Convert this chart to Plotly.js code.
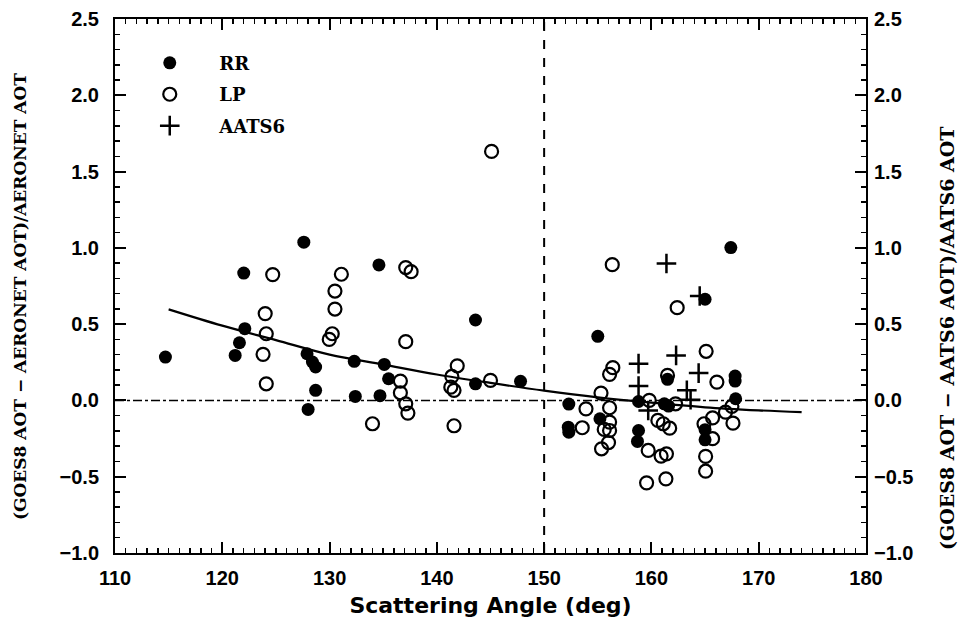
<!DOCTYPE html>
<html><head><meta charset="utf-8">
<script src="https://cdn.plot.ly/plotly-3.0.1.min.js"></script>
<style>html,body{margin:0;padding:0;background:#fff;}#chart{width:961px;height:621px;}</style>
</head><body><div id="chart"></div>
<script>
// RR (filled circles)
const rrX = [114.7,127.6,122.0,122.1,121.6,121.2,127.9,128.4,128.7,128.7,128.0,134.6,143.6,132.3,135.1,135.5,143.6,147.8,132.4,134.7,155.0,165.0,161.5,158.8,161.2,161.6,152.3,155.2,152.25,152.3,158.8,158.7,167.4,167.8,167.8,167.85,165.0,165.0];
const rrY = [0.284,1.037,0.835,0.470,0.378,0.295,0.306,0.252,0.219,0.066,-0.059,0.888,0.527,0.256,0.236,0.142,0.109,0.125,0.026,0.031,0.420,0.663,0.138,-0.007,-0.022,-0.037,-0.024,-0.120,-0.175,-0.208,-0.197,-0.269,1.002,0.160,0.127,0.011,-0.192,-0.258];
// LP (open circles)
const lpX = [124.7,124.0,124.1,123.8,124.1,145.1,137.1,137.6,131.1,130.5,130.5,130.25,129.97,137.1,141.9,136.6,141.4,141.3,141.6,145.0,136.6,137.1,137.3,134.0,141.6,
  156.35,162.4,165.1,156.4,156.1,161.5,166.1,155.3,153.9,159.8,162.25,156.1,156.1,155.6,156.1,160.6,161.1,161.7,153.55,156.0,155.35,159.7,160.9,161.4,159.55,161.35,
  167.5,166.9,165.7,164.9,165.7,167.6,165.05,165.05];
const lpY = [0.825,0.569,0.437,0.302,0.109,1.632,0.871,0.844,0.827,0.717,0.599,0.437,0.400,0.385,0.227,0.127,0.157,0.087,0.066,0.131,0.050,-0.022,-0.083,-0.153,-0.166,
  0.890,0.608,0.322,0.215,0.171,0.164,0.120,0.048,-0.055,0.000,-0.022,-0.048,-0.142,-0.190,-0.197,-0.131,-0.153,-0.182,-0.179,-0.276,-0.317,-0.328,-0.365,-0.350,-0.540,-0.514,
  -0.039,-0.077,-0.114,-0.153,-0.251,-0.149,-0.367,-0.464];
// AATS6 (plus)
const aaX = [161.4,164.5,162.3,158.8,164.4,158.8,163.3,163.65,159.7];
const aaY = [0.897,0.684,0.295,0.241,0.179,0.094,0.066,0.004,-0.066];
// fitted curve
const fitX = [115,120,125,130,135,140,145,150,155,160,165,170,174];
const fitY = [0.597,0.49,0.395,0.30,0.235,0.17,0.115,0.064,0.02,-0.015,-0.045,-0.065,-0.077];

const serif = 'DejaVu Serif, Liberation Serif, serif';
const tickFont = {family:'Liberation Sans, Arial, sans-serif', size:20, color:'#000', weight:600};
const leftTitle = '<b>(GOES8 AOT \u2212 AERONET AOT)/AERONET AOT</b>';
const rightTitle = '<b>(GOES8 AOT \u2212 AATS6 AOT)/AATS6 AOT</b>';

const traces = [
  {x:fitX, y:fitY, mode:'lines', line:{color:'#000', width:2.2, shape:'spline'}, showlegend:false, hoverinfo:'skip'},
  {x:rrX, y:rrY, mode:'markers', name:'<b>RR</b>', legendgroup:'a', marker:{symbol:'circle', size:13, color:'#000'}},
  {x:lpX, y:lpY, mode:'markers', name:'<b>LP</b>', legendgroup:'b', marker:{symbol:'circle-open', size:13, color:'#000', line:{width:2.2, color:'#000'}}},
  {x:aaX, y:aaY, mode:'markers', name:'<b>AATS6</b>', legendgroup:'c', marker:{symbol:'cross-thin-open', size:14, color:'#000', line:{width:2.5, color:'#000'}}},
  {x:[150], y:[0], xaxis:'x2', yaxis:'y2', mode:'markers', marker:{opacity:0}, showlegend:false, hoverinfo:'skip'}
];

const axBase = {
  showgrid:false, zeroline:false, showline:true, linecolor:'#000', linewidth:2,
  ticks:'inside', ticklen:11, tickwidth:2, tickcolor:'#000', tickfont:tickFont
};

const layout = {
  width:961, height:621,
  margin:{l:115, r:95, t:19, b:68},
  paper_bgcolor:'#fff', plot_bgcolor:'#fff',
  showlegend:true,
  legend:{x:0.007, y:0.952, xanchor:'left', yanchor:'top', bgcolor:'rgba(0,0,0,0)',
    font:{family:serif, size:18, color:'#000'}, tracegroupgap:5, traceorder:'grouped', itemwidth:89},
  xaxis:Object.assign({}, axBase, {range:[110,180], dtick:10, tick0:110, ticklabelstandoff:6,
    minor:{dtick:1, ticks:'inside', ticklen:5, tickwidth:1.5, tickcolor:'#000'},
    title:{text:'<b>Scattering Angle (deg)</b>', font:{family:'DejaVu Sans, sans-serif', size:22, color:'#000'}, standoff:10}}),
  yaxis:Object.assign({}, axBase, {range:[-1,2.5], dtick:0.5, tick0:0, tickformat:'.1f', ticklabelstandoff:10,
    minor:{dtick:0.1, ticks:'inside', ticklen:5, tickwidth:1.5, tickcolor:'#000'}}),
  xaxis2:Object.assign({}, axBase, {range:[110,180], dtick:10, tick0:110, overlaying:'x', side:'top', showticklabels:false,
    minor:{dtick:1, ticks:'inside', ticklen:5, tickwidth:1.5, tickcolor:'#000'}}),
  yaxis2:Object.assign({}, axBase, {range:[-1,2.5], dtick:0.5, tick0:0, tickformat:'.1f', overlaying:'y', side:'right', ticklabelstandoff:2,
    minor:{dtick:0.1, ticks:'inside', ticklen:5, tickwidth:1.5, tickcolor:'#000'}}),
  annotations:[
    {text:leftTitle, xref:'paper', yref:'paper', x:(20-115)/751, y:(553-297)/534, xanchor:'center', yanchor:'middle', textangle:-90, showarrow:false, font:{family:serif, size:17, color:'#000'}},
    {text:rightTitle, xref:'paper', yref:'paper', x:(947-115)/751, y:(553-338)/534, xanchor:'center', yanchor:'middle', textangle:-90, showarrow:false, font:{family:serif, size:19, color:'#000'}}
  ],
  shapes:[
    {type:'line', xref:'x', yref:'paper', x0:150, x1:150, y0:0, y1:1, line:{color:'#000', width:2, dash:'dash'}},
    {type:'line', xref:'paper', yref:'y', x0:0, x1:1, y0:0, y1:0, line:{color:'#000', width:1.5, dash:'dashdot'}}
  ]
};

Plotly.newPlot('chart', traces, layout, {staticPlot:true, displayModeBar:false});
</script>
</body></html>
